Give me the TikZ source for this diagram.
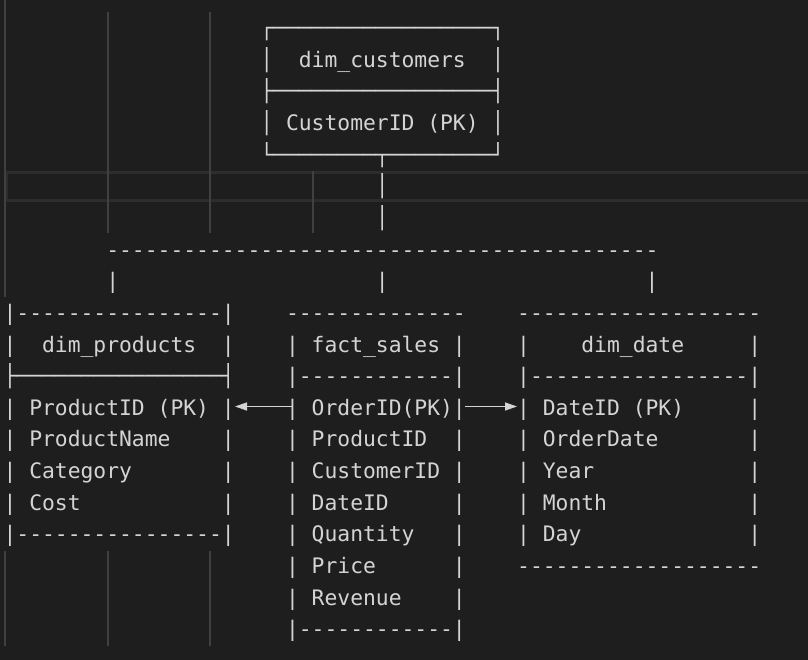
\documentclass[tikz,border=0pt]{standalone}
\usepackage{fontspec}
\newfontfamily\mono{DejaVu Sans Mono}[Ligatures=TeXOff]
\usetikzlibrary{arrows.meta}
\definecolor{bg}{HTML}{1E1E1E}
\definecolor{fg}{HTML}{D4D4D4}
\definecolor{guide}{HTML}{404040}
\definecolor{band}{HTML}{2D2D2D}
\tikzset{
  tx/.style={inner sep=0pt,outer sep=0pt,text=fg,font=\mono\fontsize{21.33}{25}\selectfont,anchor=base west},
  guideline/.style={draw=guide,line width=2pt},
  bandline/.style={draw=band,line width=3pt},
  arr/.style={draw=fg,line width=1.4pt,-{Triangle[length=12pt,width=8pt]}}
}
\newcommand\T[3]{\node[tx] (t#1-#2) at ({3.58+12.84*#1},{35.5+31.65*#2}) {#3};}
\begin{document}
\begin{tikzpicture}[x=1pt,y=-1pt]
\fill[bg] (0,0) rectangle (808,660);
\useasboundingbox (0,0) rectangle (808,660);
% editor bands and guides
\draw[bandline] (6,172.5) rectangle (820,200.5);
\draw[guideline] (5,0) -- (5,297);
\draw[guideline] (108,12) -- (108,233);
\draw[guideline] (210,12) -- (210,233);
\draw[guideline] (313,171) -- (313,233);
\draw[guideline] (5,551) -- (5,646);
\draw[guideline] (108,551) -- (108,646);
\draw[guideline] (210,551) -- (210,646);
% dim_customers
\T{20}{0}{┌─────────────────┐}
\T{20}{1}{│}\T{23}{1}{dim\_customers}\T{38}{1}{│}
\T{20}{2}{├─────────────────┤}
\T{20}{3}{│}\T{22}{3}{CustomerID (PK)}\T{38}{3}{│}
\T{20}{4}{└────────┬────────┘}
\T{29}{5}{│}
\T{29}{6}{│}
\T{8}{7}{-------------------------------------------}
\T{8}{8}{|}\T{29}{8}{|}\T{50}{8}{|}
% row 9
\T{0}{9}{|----------------|}
\T{22}{9}{--------------}
\T{40}{9}{-------------------}
% row 10
\T{0}{10}{|}\T{3}{10}{dim\_products}\T{17}{10}{|}
\T{22}{10}{|}\T{24}{10}{fact\_sales}\T{35}{10}{|}
\T{40}{10}{|}\T{45}{10}{dim\_date}\T{58}{10}{|}
% row 11
\T{0}{11}{├────────────────┤}
\T{22}{11}{|------------|}
\T{40}{11}{|-----------------|}
% row 12
\T{0}{12}{|}\T{2}{12}{ProductID (PK)}\T{17}{12}{|}
\T{22}{12}{|}\T{24}{12}{OrderID(PK)|}
\T{40}{12}{|}\T{42}{12}{DateID (PK)}\T{58}{12}{|}
% row 13
\T{0}{13}{|}\T{2}{13}{ProductName}\T{17}{13}{|}
\T{22}{13}{|}\T{24}{13}{ProductID}\T{35}{13}{|}
\T{40}{13}{|}\T{42}{13}{OrderDate}\T{58}{13}{|}
% row 14
\T{0}{14}{|}\T{2}{14}{Category}\T{17}{14}{|}
\T{22}{14}{|}\T{24}{14}{CustomerID}\T{35}{14}{|}
\T{40}{14}{|}\T{42}{14}{Year}\T{58}{14}{|}
% row 15
\T{0}{15}{|}\T{2}{15}{Cost}\T{17}{15}{|}
\T{22}{15}{|}\T{24}{15}{DateID}\T{35}{15}{|}
\T{40}{15}{|}\T{42}{15}{Month}\T{58}{15}{|}
% row 16
\T{0}{16}{|----------------|}
\T{22}{16}{|}\T{24}{16}{Quantity}\T{35}{16}{|}
\T{40}{16}{|}\T{42}{16}{Day}\T{58}{16}{|}
% row 17
\T{22}{17}{|}\T{24}{17}{Price}\T{35}{17}{|}
\T{40}{17}{-------------------}
% row 18
\T{22}{18}{|}\T{24}{18}{Revenue}\T{35}{18}{|}
% row 19
\T{22}{19}{|------------|}
% arrows
\coordinate (fsL) at (292.5,406.5);
\coordinate (dpR) at (235,406.5);
\coordinate (fsR) at (465,406.5);
\coordinate (ddL) at (517,406.5);
\draw[arr] (fsL) -- (dpR);
\draw[arr] (fsR) -- (ddL);
\end{tikzpicture}
\end{document}
